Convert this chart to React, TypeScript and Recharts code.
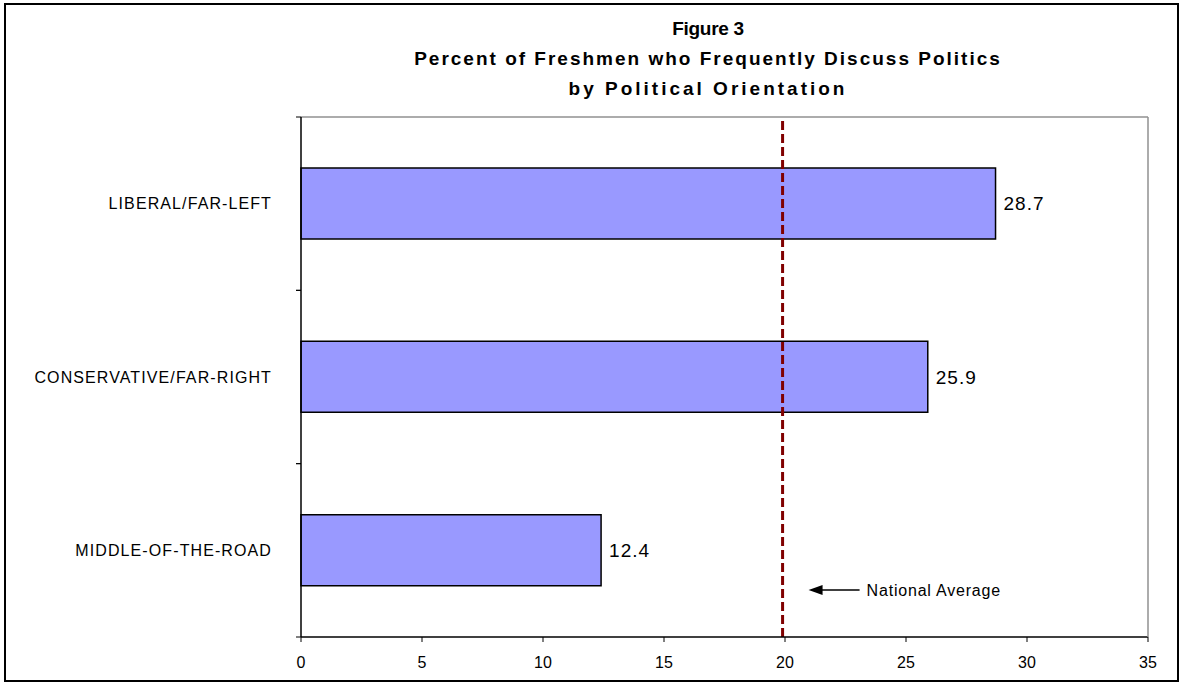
import {
  BarChart,
  Bar,
  XAxis,
  YAxis,
  ReferenceLine,
  LabelList,
} from 'recharts'

const categories = ['LIBERAL/FAR-LEFT', 'CONSERVATIVE/FAR-RIGHT', 'MIDDLE-OF-THE-ROAD']
const percents = [28.7, 25.9, 12.4]
const xTicks = [0, 5, 10, 15, 20, 25, 30, 35]
const nationalAverage = 19.9
const titleLines = [
  'Figure 3',
  'Percent of Freshmen who Frequently Discuss Politics',
  'by Political Orientation',
]
const titleSpacing = [-0.3, 2, 3]

const data = categories.map((name, i) => ({ name, value: percents[i] }))

const FONT = '"Liberation Sans", Arial, sans-serif'

// category label plus the Excel style ticks on the band edges
const CategoryTick = (props: any) => {
  const { x, y, payload } = props
  const axisX = x + 29
  const half = payload && payload.offset ? payload.offset : 0
  return (
    <g>
      <text
        x={x}
        y={y}
        dy="0.35em"
        textAnchor="end"
        fontSize={16}
        letterSpacing={1.1}
        fontFamily={FONT}
        fill="#000"
      >
        {payload.value}
      </text>
      <line x1={axisX - 5} x2={axisX} y1={y - half} y2={y - half} stroke="#000" />
      <line x1={axisX - 5} x2={axisX} y1={y + half} y2={y + half} stroke="#000" />
    </g>
  )
}

// arrow + text hung off the national average line
const AverageNote = (props: any) => {
  const vb = props.viewBox || {}
  const x = vb.x + 26
  const y = vb.y + vb.height - 47
  return (
    <g>
      <line x1={x + 10} x2={x + 51} y1={y} y2={y} stroke="#000" strokeWidth={1.5} />
      <polygon points={`${x},${y} ${x + 14},${y - 5} ${x + 14},${y + 5}`} fill="#000" />
      <text
        x={x + 58}
        y={y}
        dy="0.35em"
        fontSize={16}
        letterSpacing={0.8}
        fontFamily={FONT}
        fill="#000"
      >
        National Average
      </text>
    </g>
  )
}

export default function App() {
  return (
    <div
      style={{
        position: 'absolute',
        left: 0,
        top: 0,
        width: 1180,
        height: 683,
        background: '#fff',
        fontFamily: FONT,
      }}
    >
      <div
        style={{
          position: 'absolute',
          left: 4,
          top: 3,
          width: 1171,
          height: 675,
          border: '2px solid #000',
          pointerEvents: 'none',
        }}
      />
      <div
        style={{
          position: 'absolute',
          left: 0,
          top: 14,
          width: 1416,
          textAlign: 'center',
          fontWeight: 'bold',
          fontSize: 19,
          lineHeight: '30px',
          color: '#000',
        }}
      >
        {titleLines.map((t, i) => (
          <div key={t} style={{ letterSpacing: titleSpacing[i] }}>
            {t}
          </div>
        ))}
      </div>
      <div style={{ position: 'absolute', left: 0, top: 0 }}>
        <BarChart
          width={1180}
          height={683}
          data={data}
          layout="vertical"
          margin={{ top: 116, right: 31, bottom: 16, left: 21 }}
        >
          <XAxis
            type="number"
            domain={[0, 35]}
            ticks={xTicks}
            interval={0}
            tick={{ fontSize: 16, fill: '#000', fontFamily: FONT }}
            tickSize={5}
            tickMargin={15}
            axisLine={{ stroke: '#000', strokeWidth: 1.5 }}
            tickLine={{ stroke: '#000' }}
            height={30}
          />
          <XAxis
            xAxisId="top"
            orientation="top"
            type="number"
            domain={[0, 35]}
            height={1}
            tick={false}
            tickLine={false}
            axisLine={{ stroke: '#909090', strokeWidth: 1.5 }}
          />
          <YAxis
            yAxisId="cat"
            type="category"
            dataKey="name"
            width={280}
            axisLine={{ stroke: '#000', strokeWidth: 1.5 }}
            tickLine={false}
            tickSize={0}
            tickMargin={29}
            tick={<CategoryTick />}
          />
          <YAxis
            yAxisId="right"
            orientation="right"
            type="category"
            dataKey="name"
            width={1}
            tick={false}
            tickLine={false}
            axisLine={{ stroke: '#909090', strokeWidth: 1.5 }}
          />
          <Bar
            yAxisId="cat"
            dataKey="value"
            fill="#9999FF"
            stroke="#000"
            strokeWidth={1.5}
            barSize={71}
            isAnimationActive={false}
          >
            <LabelList
              dataKey="value"
              position="right"
              offset={8}
              fontSize={19}
              letterSpacing={1}
              fill="#000"
              fontFamily={FONT}
            />
          </Bar>
          <ReferenceLine
            yAxisId="cat"
            x={nationalAverage}
            stroke="#800000"
            strokeWidth={3}
            strokeDasharray="9 4"
            label={<AverageNote />}
          />
        </BarChart>
      </div>
    </div>
  )
}
